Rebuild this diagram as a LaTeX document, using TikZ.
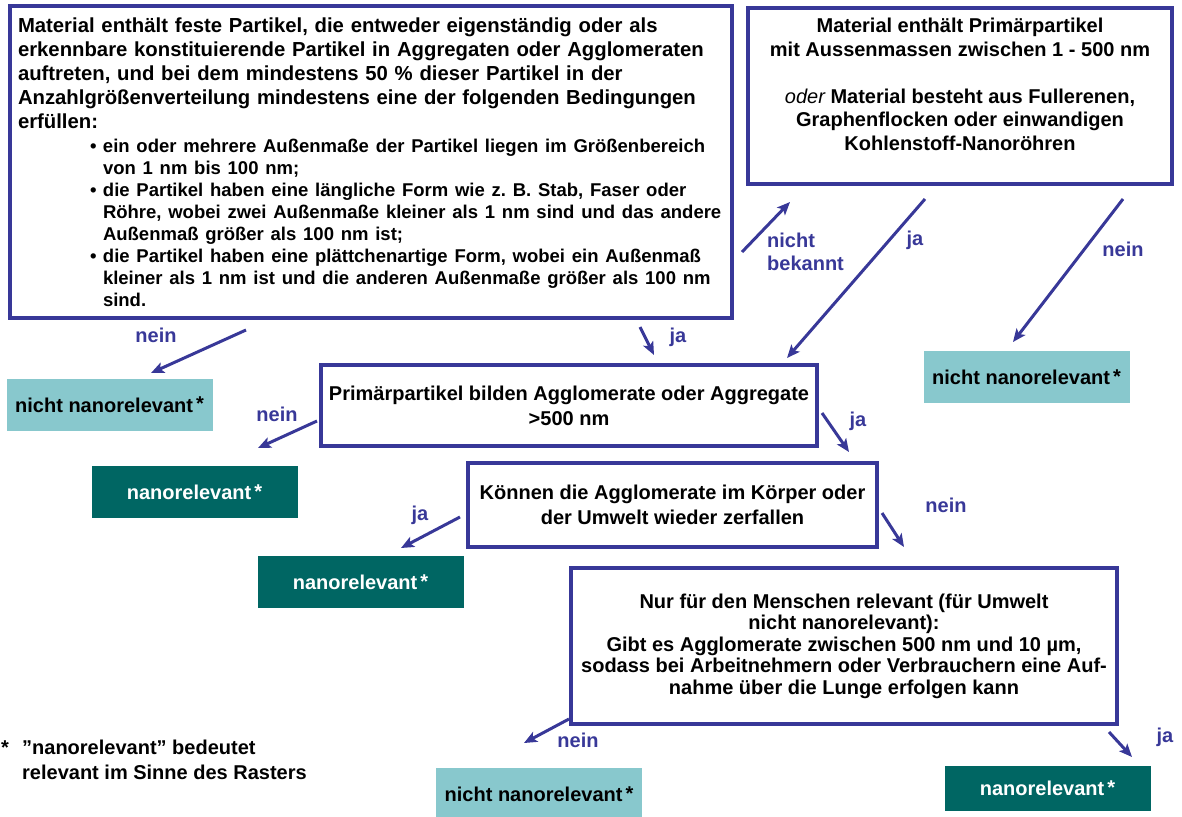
\documentclass[tikz,border=0pt]{standalone}
\usepackage{fontspec}
\setmainfont{Liberation Sans}
\usetikzlibrary{positioning,arrows.meta}
\usepackage{xcolor}

\definecolor{rasterblue}{RGB}{56,56,152}
\definecolor{nichtteal}{RGB}{136,200,205}
\definecolor{nanoteal}{RGB}{0,102,99}

\newcommand{\qfont}{\fontsize{20}{23.5}\selectfont\bfseries}
\newcommand{\qfontA}{\fontsize{20.3}{24}\selectfont\bfseries}
\newcommand{\qfontB}{\fontsize{18.5}{22}\selectfont\bfseries}
\newcommand{\itm}{\par\leftskip=85pt\noindent\llap{\makebox[13pt][l]{•}}}
\newcommand{\stern}{\hspace{3pt}\raisebox{1.5pt}{*}}

\begin{document}
\begin{tikzpicture}[
  x=1pt, y=-1pt,
  qbox/.style={draw=rasterblue, line width=3.4pt, fill=white, inner xsep=8pt, inner ysep=4pt, font=\qfont, align=center},
  nicht/.style={fill=nichtteal, minimum width=206pt, minimum height=52pt, font=\qfont, text=black},
  nano/.style={fill=nanoteal, minimum width=206pt, minimum height=52pt, font=\qfont, text=white},
  lbl/.style={text=rasterblue, font=\qfont, inner sep=0pt},
  arr/.style={draw=rasterblue, line width=3pt, -{Stealth[length=13pt, width=11pt, inset=3pt]}}
]
  \useasboundingbox (0,0) rectangle (1182,816);

  % Question boxes
  \node[qbox, text width=706pt, minimum height=312pt, align=left, font=\qfontA] (q1) at (371,162) {%
    Material enthält feste Partikel, die entweder eigenständig oder als\\
    erkennbare konstituierende Partikel in Aggregaten oder Agglomeraten\\
    auftreten, und bei dem mindestens 50 \% dieser Partikel in der\\
    Anzahlgrößenverteilung mindestens eine der folgenden Bedingungen\\
    erfüllen:\par\vskip 2pt
    \qfontB
    \itm ein oder mehrere Außenmaße der Partikel liegen im Größenbereich\\
    von 1 nm bis 100 nm;
    \itm die Partikel haben eine längliche Form wie z.~B. Stab, Faser oder\\
    Röhre, wobei zwei Außenmaße kleiner als 1 nm sind und das andere\\
    Außenmaß größer als 100 nm ist;
    \itm die Partikel haben eine plättchenartige Form, wobei ein Außenmaß\\
    kleiner als 1 nm ist und die anderen Außenmaße größer als 100 nm\\
    sind.\par};
  \node[qbox, minimum width=424pt, minimum height=176pt] (q2) at (960,96) {%
    Material enthält Primärpartikel\\
    mit Aussenmassen zwischen 1 - 500 nm\\[23.5pt]
    {\mdseries\itshape oder} Material besteht aus Fullerenen,\\
    Graphenflocken oder einwandigen\\
    Kohlenstoff-Nanoröhren\\ \mbox{}};
  \node[qbox, minimum width=496pt, minimum height=81pt, font=\fontsize{20}{25}\selectfont\bfseries] (q3) at (569,405.5) {%
    Primärpartikel bilden Agglomerate oder Aggregate\\ >500 nm};
  \node[qbox, minimum width=409pt, minimum height=84pt, font=\fontsize{20}{25}\selectfont\bfseries] (q4) at (672.5,505) {%
    Können die Agglomerate im Körper oder\\ der Umwelt wieder zerfallen};
  \node[qbox, minimum width=546pt, minimum height=156pt, font=\fontsize{20}{21.5}\selectfont\bfseries] (q5) at (844,646) {%
    Nur für den Menschen relevant (für Umwelt\\
    nicht nanorelevant):\\
    Gibt es Agglomerate zwischen 500 nm und 10 µm,\\
    sodass bei Arbeitnehmern oder Verbrauchern eine Auf-\\
    nahme über die Lunge erfolgen kann};

  % Result boxes
  \node[nicht] (nnL) at (109.5,404.5) {nicht nanorelevant\stern};
  \node[nicht] (nnR) at (1026.5,377) {nicht nanorelevant\stern};
  \node[nicht] (nnB) at (539,794) {nicht nanorelevant\stern};
  \node[nano] (nr1) at (194.5,492) {nanorelevant\stern};
  \node[nano] (nr2) at (360.5,582) {nanorelevant\stern};
  \node[nano, minimum height=45pt] (nrB) at (1047.5,788) {nanorelevant\stern};

  % Arrow end points
  \coordinate (a1s) at (246,330);  \coordinate (a1e) at (151,373);
  \coordinate (a2s) at (640,327);  \coordinate (a2e) at (654,355);
  \coordinate (a3s) at (742,252);  \coordinate (a3e) at (790,202);
  \coordinate (a4s) at (925,199);  \coordinate (a4e) at (787,358);
  \coordinate (a5s) at (1123,199); \coordinate (a5e) at (1013,342);
  \coordinate (a6s) at (317,421);  \coordinate (a6e) at (258,448);
  \coordinate (a7s) at (822,413);  \coordinate (a7e) at (849,452);
  \coordinate (a8s) at (460,517);  \coordinate (a8e) at (401,548);
  \coordinate (a9s) at (882,513);  \coordinate (a9e) at (904,547);
  \coordinate (a10s) at (569,719); \coordinate (a10e) at (524,743);
  \coordinate (a11s) at (1109,732);\coordinate (a11e) at (1132,757);

  % Arrows
  \draw[arr] (a1s) -- (a1e);
  \draw[arr] (a2s) -- (a2e);
  \draw[arr] (a3s) -- (a3e);
  \draw[arr] (a4s) -- (a4e);
  \draw[arr] (a5s) -- (a5e);
  \draw[arr] (a6s) -- (a6e);
  \draw[arr] (a7s) -- (a7e);
  \draw[arr] (a8s) -- (a8e);
  \draw[arr] (a9s) -- (a9e);
  \draw[arr] (a10s) -- (a10e);
  \draw[arr] (a11s) -- (a11e);

  % Answer labels
  \node[lbl] (l1) at (156,335) {nein};
  \node[lbl] (l2) at (678,337) {ja};
  \node[lbl, align=left, anchor=west, font=\fontsize{20}{23}\selectfont\bfseries] (l3) at (767,251.5) {nicht\\bekannt};
  \node[lbl] (l4) at (915,240) {ja};
  \node[lbl] (l5) at (1123,249) {nein};
  \node[lbl] (l6) at (277,414) {nein};
  \node[lbl] (l7) at (858,421) {ja};
  \node[lbl] (l8) at (420,515) {ja};
  \node[lbl] (l9) at (946,505) {nein};
  \node[lbl] (l10) at (578,740) {nein};
  \node[lbl] (l11) at (1165,737) {ja};

  % Footnote
  \node[align=left, anchor=west, inner sep=0pt, font=\fontsize{20}{24.5}\selectfont\bfseries] (fn) at (1,760) {%
    \makebox[21pt][l]{*}”nanorelevant” bedeutet\\
    \hspace*{21pt}relevant im Sinne des Rasters};
\end{tikzpicture}
\end{document}
